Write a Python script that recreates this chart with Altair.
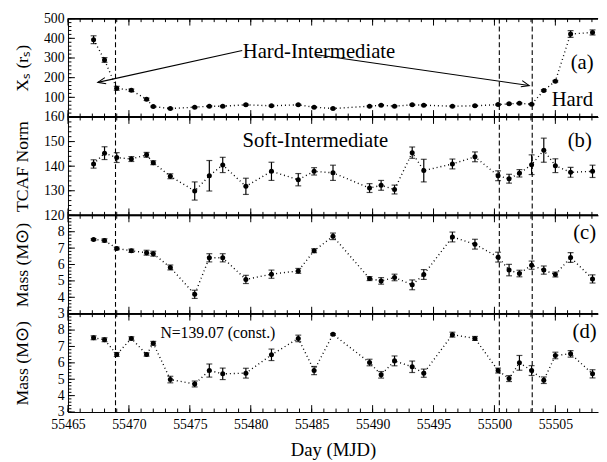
import altair as alt
import pandas as pd

# ---- data ----
days = [55467.1, 55468.0, 55469.0, 55470.2, 55471.45, 55472.0, 55473.4, 55475.4,
        55476.6, 55477.7, 55479.6, 55481.7, 55483.9, 55485.2, 55486.75, 55489.75,
        55490.7, 55491.8, 55493.25, 55494.2, 55496.55, 55498.4, 55500.3, 55501.2,
        55502.05, 55503.05, 55504.05, 55505.0, 55506.25, 55508.05]

xs = [393, 290, 146, 136, 90, 53, 43, 50, 55, 55, 62, 57, 62, 50, 43, 55,
      60, 55, 62, 60, 55, 57, 63, 67, 70, 65, 135, 182, 422, 430]
xs_err = [20, 12, 10, 6, 6, 3, 3, 3, 3, 3, 3, 3, 3, 3, 3, 3,
          3, 3, 3, 3, 3, 3, 3, 3, 3, 3, 4, 4, 17, 13]

norm = [140.9, 145.3, 143.5, 142.9, 144.6, 141.4, 135.9, 129.9, 136.1, 140.5,
        131.8, 137.9, 134.5, 137.9, 137.3, 131.1, 132.2, 130.5, 145.5, 138.2,
        140.9, 143.8, 136.1, 134.9, 137.1, 140.6, 146.5, 140.2, 137.5, 137.9]
norm_err = [1.7, 2.6, 2.0, 1.0, 1.0, 0.8, 1.0, 3.7, 6.2, 3.1, 3.3, 3.7, 2.5, 1.5, 3.1,
            1.8, 2.0, 1.8, 2.3, 4.6, 2.0, 2.0, 2.0, 1.8, 1.5, 4.0, 4.9, 2.8, 2.0, 2.5]

mass_c = [7.53, 7.47, 6.98, 6.84, 6.72, 6.66, 5.82, 4.18, 6.41, 6.41, 5.09, 5.41,
          5.61, 6.84, 7.72, 5.14, 5.00, 5.21, 4.76, 5.39, 7.68, 7.24, 6.45, 5.66,
          5.45, 5.96, 5.66, 5.39, 6.43, 5.12]
mass_c_err = [0.05, 0.1, 0.08, 0.1, 0.15, 0.15, 0.15, 0.25, 0.25, 0.25, 0.25, 0.25,
              0.15, 0.12, 0.2, 0.12, 0.2, 0.2, 0.3, 0.3, 0.3, 0.3, 0.3, 0.35,
              0.2, 0.25, 0.25, 0.15, 0.3, 0.25]

mass_d = [7.53, 7.41, 6.51, 7.49, 6.51, 7.19, 4.98, 4.71, 5.53, 5.33, 5.37, 6.49,
          7.49, 5.53, 7.74, 6.02, 5.27, 6.12, 5.76, 5.37, 7.72, 7.49, 5.53, 5.04,
          6.00, 5.53, 4.94, 6.45, 6.55, 5.33]
mass_d_err = [0.12, 0.12, 0.12, 0.1, 0.1, 0.12, 0.2, 0.18, 0.4, 0.35, 0.3, 0.35,
              0.2, 0.25, 0.05, 0.2, 0.2, 0.3, 0.35, 0.25, 0.15, 0.12, 0.15, 0.18,
              0.45, 0.3, 0.2, 0.2, 0.2, 0.25]

dashed_days = [55468.9, 55500.4, 55503.1]

x_major = [55465, 55470, 55475, 55480, 55485, 55490, 55495, 55500, 55505]
x_minor = list(range(55465, 55509))

ya_major = [100, 200, 300, 400, 500]
ya_minor = list(range(0, 501, 20))
yb_major = [120, 130, 140, 150, 160]
yb_minor = list(range(120, 161, 2))
ym_major = [3, 4, 5, 6, 7, 8]
ym_minor = [round(3 + 0.2 * i, 1) for i in range(31)]

# ---- layout ----
W, H = 539, 100
XDOM = [55465, 55508.5]
FONT = "Liberation Serif, Times New Roman, Times, serif"
xscale = alt.Scale(domain=XDOM, nice=False, zero=False)
ARROW = "M -0.4,1 L 0,0 L 0.4,1"


def panel(vals, errs, ydom, ymaj, ymin, ytitle, yticklabels, texts, bottom=False, arrows=None):
    df = pd.DataFrame({"day": days, "v": vals,
                       "lo": [v - e for v, e in zip(vals, errs)],
                       "hi": [v + e for v, e in zip(vals, errs)]})
    yscale = alt.Scale(domain=ydom, nice=False, zero=False)
    if bottom:
        xaxis = alt.Axis(values=x_major, ticks=False, domain=True, labelFontSize=14,
                         labelPadding=6, labelFlush=False, labelOverlap=False, format="d",
                         title="Day (MJD)", titleFontSize=19, titlePadding=9)
    else:
        xaxis = alt.Axis(values=x_major, labels=False, ticks=False, domain=True, title=None)
    yaxis = alt.Axis(values=yticklabels, ticks=False, domain=True, labelFontSize=14,
                     labelPadding=4, labelOverlap=False, labelFlush=False,
                     title=ytitle, titleFontSize=18, titleX=-46, titleY=H / 2,
                     titleAngle=-90, titleBaseline="middle", titleAlign="center")

    X = alt.X("day:Q", scale=xscale, axis=xaxis)
    Y = alt.Y("v:Q", scale=yscale, axis=yaxis)
    XN = alt.X("day:Q", scale=xscale, axis=xaxis)

    line = alt.Chart(df).mark_line(strokeDash=[1, 3], color="black", strokeWidth=1.4).encode(x=X, y=Y)
    bars = alt.Chart(df).mark_rule(color="black", strokeWidth=1.2).encode(
        x=XN, y=alt.Y("lo:Q", scale=yscale, axis=yaxis), y2="hi:Q")
    cap_lo = alt.Chart(df).mark_tick(orient="horizontal", size=6, thickness=1.2, color="black").encode(
        x=XN, y=alt.Y("lo:Q", scale=yscale, axis=yaxis))
    cap_hi = alt.Chart(df).mark_tick(orient="horizontal", size=6, thickness=1.2, color="black").encode(
        x=XN, y=alt.Y("hi:Q", scale=yscale, axis=yaxis))
    pts = alt.Chart(df).mark_circle(size=26, color="black", opacity=1).encode(x=XN, y=Y)
    dashed = alt.Chart(pd.DataFrame({"day": dashed_days})).mark_rule(
        strokeDash=[5, 3], color="black", strokeWidth=1.1).encode(x=XN)

    xmaj = pd.DataFrame({"day": x_major})
    xmin = pd.DataFrame({"day": x_minor})
    ymajd = pd.DataFrame({"v": ymaj})
    ymind = pd.DataFrame({"v": ymin})
    tk = dict(color="black", strokeWidth=1)
    ticks = [
        alt.Chart(xmaj).mark_rule(**tk).encode(x=XN, y=alt.value(H), y2=alt.value(H - 7)),
        alt.Chart(xmaj).mark_rule(**tk).encode(x=XN, y=alt.value(0), y2=alt.value(7)),
        alt.Chart(xmin).mark_rule(**tk).encode(x=XN, y=alt.value(H), y2=alt.value(H - 3.5)),
        alt.Chart(xmin).mark_rule(**tk).encode(x=XN, y=alt.value(0), y2=alt.value(3.5)),
        alt.Chart(ymajd).mark_rule(**tk).encode(y=Y, x=alt.value(0), x2=alt.value(7)),
        alt.Chart(ymind).mark_rule(**tk).encode(y=Y, x=alt.value(0), x2=alt.value(3.5)),
    ]
    top = alt.Chart(xmaj).mark_rule(color="black", strokeWidth=1).encode(
        x=alt.value(0), x2=alt.value(W), y=alt.value(0))

    layers = [line, dashed, bars, cap_lo, cap_hi, pts] + ticks + [top]

    for t in texts:
        tdf = pd.DataFrame({"day": [t["day"]], "v": [t["v"]], "label": [t["label"]]})
        layers.append(alt.Chart(tdf).mark_text(font=FONT, fontSize=t.get("size", 21),
                                               align=t.get("align", "center"),
                                               baseline="middle", color="black").encode(
            x=XN, y=Y, text="label:N"))

    if arrows:
        adf = pd.DataFrame(arrows)
        layers.append(alt.Chart(adf).mark_rule(color="black", strokeWidth=1.1).encode(
            x=alt.X("x0:Q", scale=xscale, axis=xaxis), x2="x1:Q",
            y=alt.Y("y0:Q", scale=yscale, axis=yaxis), y2="y1:Q"))
        layers.append(alt.Chart(adf).mark_point(shape=ARROW, filled=False, size=256,
                                                color="black", strokeWidth=1.1, opacity=1).encode(
            x=alt.X("x1:Q", scale=xscale, axis=xaxis),
            y=alt.Y("y1:Q", scale=yscale, axis=yaxis),
            angle=alt.Angle("ang:Q", scale=None)))

    return alt.layer(*layers).properties(width=W, height=H)


arrows_a = {"x0": [55479.3, 55485.25], "y0": [338, 318],
            "x1": [55467.45, 55502.85], "y1": [176, 160],
            "ang": [257.6, 103.5]}

pa = panel(xs, xs_err, [0, 500], ya_major, ya_minor, "Xₛ (rₛ)", ya_major,
           [{"day": 55485.6, "v": 331, "label": "Hard-Intermediate"},
            {"day": 55507.2, "v": 276, "label": "(a)"},
            {"day": 55504.7, "v": 88, "label": "Hard", "align": "left"}],
           arrows=arrows_a)
pb = panel(norm, norm_err, [120, 160], yb_major, yb_minor, "TCAF Norm", yb_major,
           [{"day": 55485.3, "v": 150.2, "label": "Soft-Intermediate"},
            {"day": 55507.0, "v": 150.2, "label": "(b)"}])
pc = panel(mass_c, mass_c_err, [3, 9], ym_major, ym_minor, "Mass (M⊙)", ym_major,
           [{"day": 55507.4, "v": 7.92, "label": "(c)"}])
pd_ = panel(mass_d, mass_d_err, [3, 9], ym_major, ym_minor, "Mass (M⊙)", ym_major,
            [{"day": 55507.4, "v": 7.86, "label": "(d)"},
             {"day": 55477.3, "v": 7.84, "label": "N=139.07 (const.)", "size": 16}],
            bottom=True)

chart = alt.vconcat(pa, pb, pc, pd_, spacing=0, bounds="flush").configure_view(stroke=None).configure_axis(
    labelFont=FONT, titleFont=FONT, labelColor="black", titleColor="black",
    domainColor="black", domainWidth=1, titleFontWeight="normal", grid=False,
    labelOverlap=False
).configure_text(font=FONT).properties(padding={"left": 5, "top": 0, "right": 0, "bottom": 0})

chart.save("out.html", embed_options={"renderer": "svg", "actions": False})
